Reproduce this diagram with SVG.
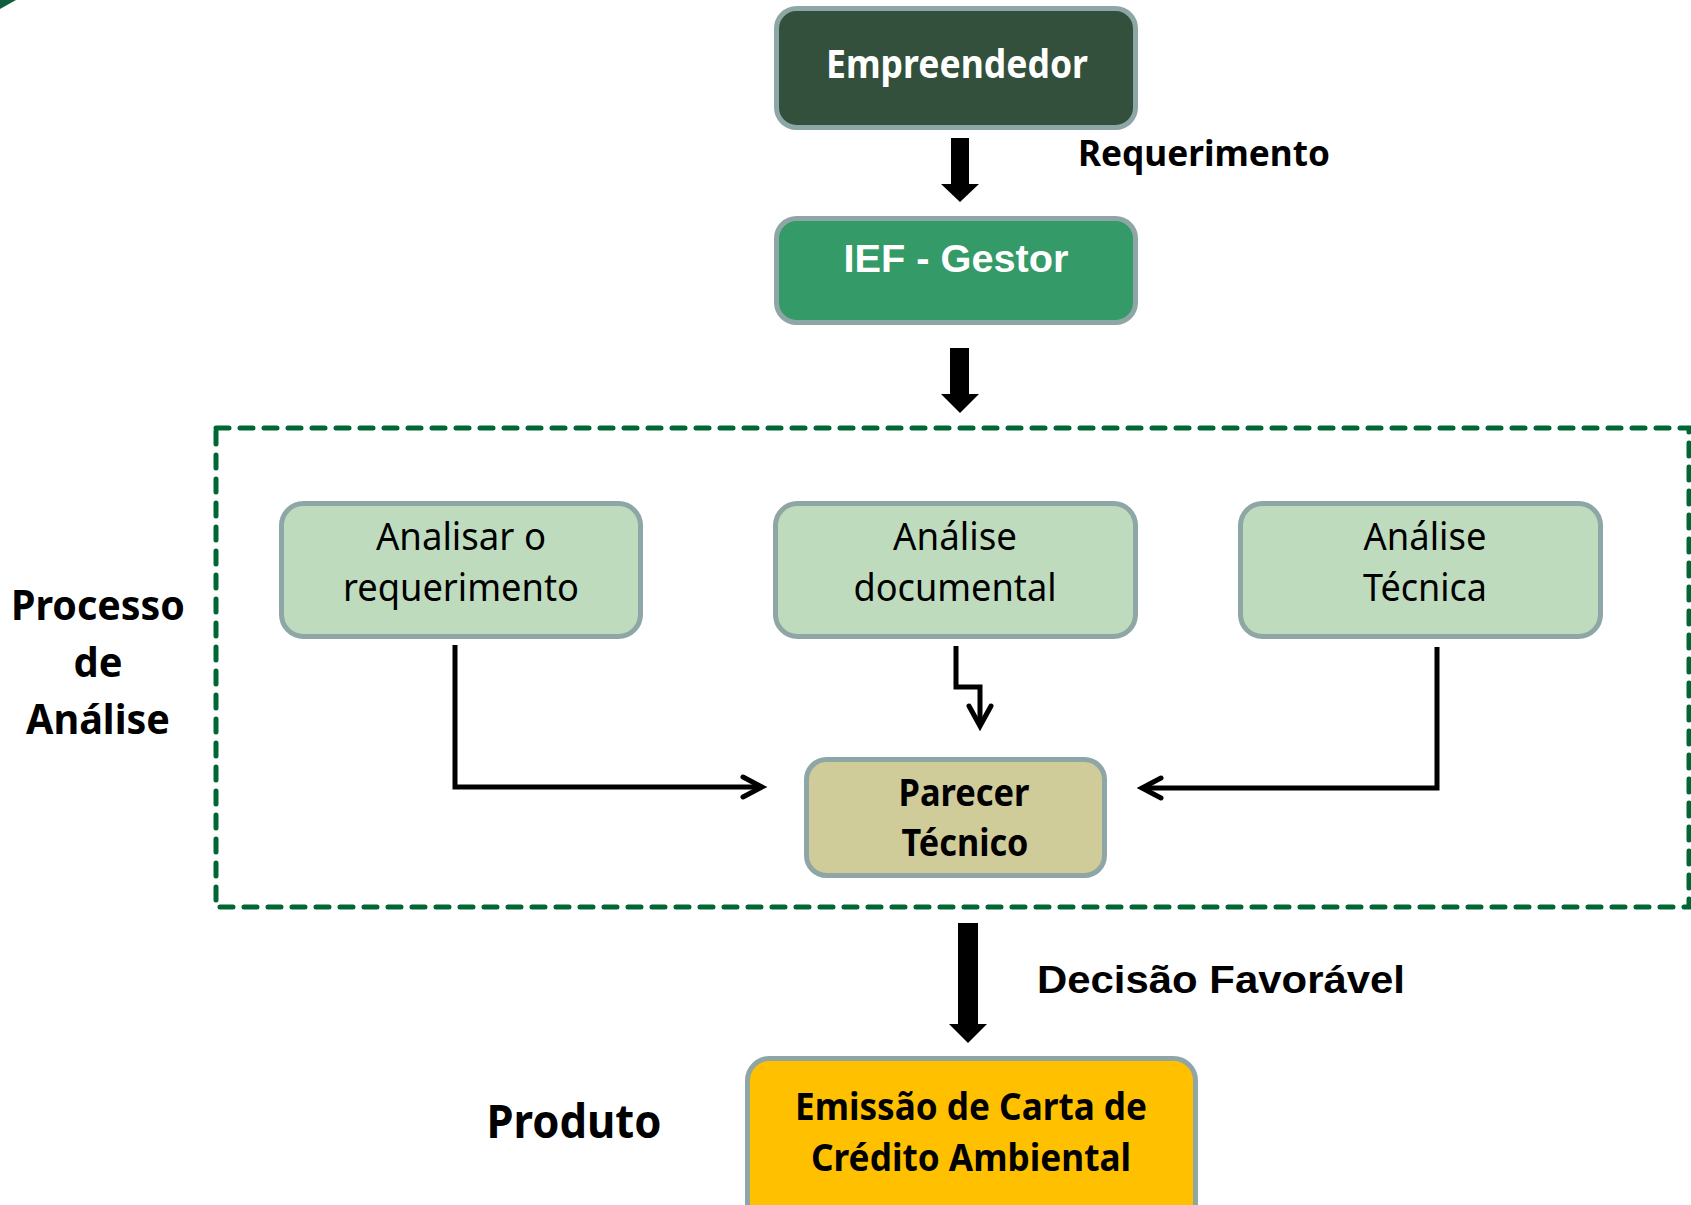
<svg xmlns="http://www.w3.org/2000/svg" width="1691" height="1205" viewBox="0 0 1691 1205">
<style>
.box{stroke:#8FA6A6;stroke-width:5}
.cal{font-family:"Noto Sans","Open Sans","DejaVu Sans",sans-serif;text-anchor:middle}
.b{font-weight:bold}
.ar{font-family:"Liberation Sans",Arial,sans-serif;font-weight:bold;text-anchor:middle}
.line{fill:none;stroke:#000;stroke-width:5;stroke-linejoin:miter}
.head{fill:none;stroke:#000;stroke-width:5;stroke-linecap:round;stroke-linejoin:miter}
</style>
<rect width="1691" height="1205" fill="#fff"/>
<polygon points="0,0 16,0 0,9" fill="#0F5E40"/>

<rect id="process-frame" x="216" y="428" width="1473" height="479" fill="none" stroke="#006633" stroke-width="5" stroke-dasharray="13 11" stroke-linecap="round"/>

<g id="connectors">
  <polygon points="951,138 969,138 969,184 979,184 960,202 941,184 951,184" fill="#000"/>
  <polygon points="950,348 969,348 969,394 979,394 960,413 941,394 950,394" fill="#000"/>
  <polygon points="958,923 978,923 978,1024 987,1024 968,1043 949,1024 958,1024" fill="#000"/>
  <polyline class="line" points="455,645 455,787 760,787"/>
  <polyline class="head" points="743,777 762,787 743,797"/>
  <polyline class="line" points="1437,647 1437,788 1144,788"/>
  <polyline class="head" points="1161,778 1142,788 1161,798"/>
  <polyline class="line" points="956,646 956,687 980,687 980,724"/>
  <polyline class="head" points="969,706 980,726 991,706"/>
  <text class="cal b" x="1204" y="166" font-size="36" textLength="252" lengthAdjust="spacingAndGlyphs">Requerimento</text>
  <text class="ar" x="1221" y="993" font-size="39" textLength="368" lengthAdjust="spacingAndGlyphs">Decisão Favorável</text>
</g>

<g id="empreendedor">
  <rect class="box" x="776.5" y="8.5" width="359" height="119" rx="20" fill="#32503C"/>
  <text class="cal b" x="957" y="78" font-size="39" fill="#fff" textLength="262" lengthAdjust="spacingAndGlyphs">Empreendedor</text>
</g>

<g id="ief-gestor">
  <rect class="box" x="776.5" y="218.5" width="359" height="104" rx="20" fill="#349A67"/>
  <text class="ar" x="956" y="272" font-size="38" fill="#fff" textLength="225" lengthAdjust="spacingAndGlyphs">IEF - Gestor</text>
</g>

<g id="analisar-requerimento">
  <rect class="box" x="281.5" y="503.5" width="359" height="133" rx="22" fill="#BEDBBE"/>
  <text class="cal" x="461" y="550" font-size="38" textLength="170" lengthAdjust="spacingAndGlyphs">Analisar o</text>
  <text class="cal" x="461" y="601" font-size="38" textLength="236" lengthAdjust="spacingAndGlyphs">requerimento</text>
</g>

<g id="analise-documental">
  <rect class="box" x="775.5" y="503.5" width="360" height="133" rx="22" fill="#BEDBBE"/>
  <text class="cal" x="955" y="550" font-size="38" textLength="124" lengthAdjust="spacingAndGlyphs">Análise</text>
  <text class="cal" x="955" y="601" font-size="38" textLength="203" lengthAdjust="spacingAndGlyphs">documental</text>
</g>

<g id="analise-tecnica">
  <rect class="box" x="1240.5" y="503.5" width="360" height="133" rx="22" fill="#BEDBBE"/>
  <text class="cal" x="1425" y="550" font-size="38" textLength="123" lengthAdjust="spacingAndGlyphs">Análise</text>
  <text class="cal" x="1425" y="601" font-size="38" textLength="124" lengthAdjust="spacingAndGlyphs">Técnica</text>
</g>

<g id="parecer-tecnico">
  <rect class="box" x="806.5" y="759.5" width="298" height="116" rx="20" fill="#CFCC9A"/>
  <text class="cal b" x="964" y="806" font-size="37" textLength="131" lengthAdjust="spacingAndGlyphs">Parecer</text>
  <text class="cal b" x="965" y="856" font-size="37" textLength="127" lengthAdjust="spacingAndGlyphs">Técnico</text>
</g>

<g id="emissao-carta">
  <rect class="box" x="747.5" y="1058.5" width="448" height="170" rx="22" fill="#FFC000"/>
  <text class="cal b" x="971" y="1120" font-size="38" textLength="352" lengthAdjust="spacingAndGlyphs">Emissão de Carta de</text>
  <text class="cal b" x="971" y="1171" font-size="38" textLength="320" lengthAdjust="spacingAndGlyphs">Crédito Ambiental</text>
</g>

<g id="label-processo">
  <text class="cal b" x="98" y="620" font-size="42" textLength="174" lengthAdjust="spacingAndGlyphs">Processo</text>
  <text class="cal b" x="98" y="677" font-size="42" textLength="49" lengthAdjust="spacingAndGlyphs">de</text>
  <text class="cal b" x="98" y="734" font-size="42" textLength="144" lengthAdjust="spacingAndGlyphs">Análise</text>
</g>

<g id="label-produto">
  <text class="cal b" x="574" y="1138" font-size="47" textLength="175" lengthAdjust="spacingAndGlyphs">Produto</text>
</g>
</svg>
